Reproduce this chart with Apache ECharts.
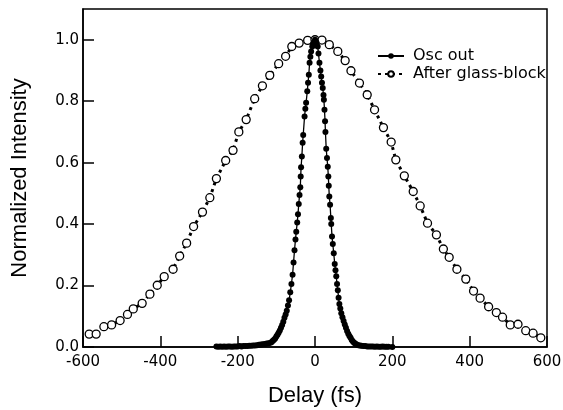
<!DOCTYPE html>
<html>
<head>
<meta charset="utf-8">
<script src="https://cdn.jsdelivr.net/npm/echarts@6/dist/echarts.min.js"></script>
<style>
  html, body { margin: 0; padding: 0; background: #fff; }
  #chart { width: 563px; height: 410px; }
</style>
</head>
<body>
<div id="chart"></div>
<script>
// Osc out (narrow pulse)
var oscDelay = [
  -255, -250, -245, -240, -235, -230, -225, -220, -215, -210, -205, -200,
  -195, -190, -185, -180, -175, -170, -165, -160, -155, -150, -145, -140,
  -135, -130, -125, -120, -115, -112, -109, -106, -103, -100, -97, -94,
  -91, -88, -85, -82, -79, -76, -73, -70, -67, -64, -61, -58, -55.5, -53,
  -50.5, -48.5, -46, -44, -42, -40, -38, -37, -36, -34, -32, -30.5, -27,
  -25, -23, -20, -18, -16, -14, -12, -10, -7, -5, -3, 0, 2, 4, 7, 9, 11.5,
  14, 16, 18, 20, 22, 23, 24.5, 26, 27, 29, 31, 33, 34.5, 35.6, 37, 39, 41,
  42, 44, 46, 48.5, 51, 53, 55, 57, 59, 61, 63, 65.5, 68, 71, 74, 77, 80,
  83, 86, 89, 92, 95, 98, 101, 104, 108, 112, 116, 120, 125, 130, 135, 140,
  145, 150, 155, 160, 165, 170, 175, 180, 185, 190, 200
];
var oscIntensity = [
  0.002, 0.001, 0.002, 0.001, 0.002, 0.001, 0.002, 0.002, 0.001, 0.002, 0.002, 0.002,
  0.003, 0.002, 0.003, 0.003, 0.003, 0.004, 0.004, 0.005, 0.005, 0.006, 0.007, 0.008,
  0.009, 0.010, 0.011, 0.012, 0.014, 0.016, 0.020, 0.024, 0.028, 0.034, 0.040, 0.046,
  0.054, 0.063, 0.072, 0.082, 0.095, 0.106, 0.118, 0.135, 0.152, 0.178, 0.205, 0.235, 0.275, 0.315,
  0.350, 0.375, 0.405, 0.432, 0.465, 0.495, 0.520, 0.555, 0.585, 0.620, 0.665, 0.690, 0.750,
  0.775, 0.795, 0.832, 0.860, 0.886, 0.925, 0.945, 0.962, 0.978, 0.985, 0.992, 1.000, 0.995, 0.990, 0.978, 0.955, 0.925,
  0.900, 0.880, 0.860, 0.843, 0.820, 0.805, 0.772, 0.735, 0.700, 0.645, 0.615, 0.587, 0.555, 0.525, 0.490, 0.463, 0.420,
  0.400, 0.360, 0.335, 0.305, 0.270, 0.250, 0.230, 0.205, 0.185, 0.160, 0.140, 0.125, 0.110, 0.097, 0.085, 0.073, 0.063,
  0.052, 0.043, 0.036, 0.030, 0.023, 0.018, 0.014, 0.011, 0.008, 0.006, 0.005, 0.004, 0.003, 0.003, 0.002, 0.002,
  0.002, 0.002, 0.001, 0.002, 0.001, 0.001, 0.002, 0.001, 0.001, 0.001, 0.000
];

// After glass-block (broadened pulse)
var glassDelay = [
  -584, -566, -546, -526, -504, -485, -470, -447, -427, -408, -390, -367,
  -350, -332, -314, -291, -272, -255, -231, -212, -197, -178, -156, -136,
  -117, -94, -76, -60, -41, -19, 0, 18, 37, 59, 78, 93, 115, 135, 154, 177,
  197, 209, 231, 254, 272, 291, 314, 332, 347, 367, 390, 410, 427, 449, 469,
  485, 505, 525, 545, 564, 584
];
var glassIntensity = [
  0.042, 0.042, 0.066, 0.072, 0.086, 0.106, 0.124, 0.142, 0.172, 0.201, 0.229, 0.253,
  0.296, 0.338, 0.392, 0.439, 0.486, 0.548, 0.607, 0.640, 0.700, 0.740, 0.808, 0.850,
  0.884, 0.922, 0.946, 0.978, 0.989, 0.998, 1.000, 0.999, 0.984, 0.962, 0.932, 0.899, 0.859, 0.821, 0.772, 0.714,
  0.667, 0.609, 0.557, 0.506, 0.459, 0.403, 0.365, 0.319, 0.292, 0.253, 0.221, 0.182, 0.159, 0.131, 0.112,
  0.097, 0.072, 0.074, 0.053, 0.045, 0.030
];

var xTicks = { min: -600, max: 600, step: 200 };
var yTicks = { min: 0, max: 1.1, step: 0.2 };

function pairs(xs, ys) {
  return xs.map(function (x, i) { return [x, ys[i]]; });
}

var myChart = echarts.init(document.getElementById('chart'), null, { renderer: 'canvas' });
var tickFont = 'DejaVu Sans, Verdana, sans-serif';
var titleFont = 'Liberation Sans, Arial, sans-serif';

var option = {
  animation: false,
  backgroundColor: '#fff',
  grid: {
    left: 83, right: 16, top: 9, bottom: 63,
    show: true, borderColor: '#000', borderWidth: 1.5,
    containLabel: false,
    outerBoundsMode: 'none'
  },
  legend: {
    orient: 'vertical',
    left: 377,
    top: 48,
    padding: 0,
    itemWidth: 26,
    itemHeight: 7,
    itemGap: 2,
    textStyle: { fontFamily: tickFont, fontSize: 16, lineHeight: 16, color: '#000', padding: [0, 0, 0, 4] },
    data: ['Osc out', 'After glass-block']
  },
  xAxis: {
    type: 'value',
    min: xTicks.min, max: xTicks.max, interval: xTicks.step,
    name: 'Delay (fs)',
    nameLocation: 'middle',
    nameGap: 38,
    nameTextStyle: { fontFamily: titleFont, fontSize: 22, color: '#000' },
    axisLine: { onZero: false, lineStyle: { color: '#000', width: 1.5 } },
    axisTick: { inside: true, length: 11, lineStyle: { color: '#000', width: 1.5 } },
    axisLabel: { fontFamily: tickFont, fontSize: 15, color: '#000', margin: 8 },
    splitLine: { show: false }
  },
  yAxis: {
    type: 'value',
    min: yTicks.min, max: yTicks.max, interval: yTicks.step,
    name: 'Normalized Intensity',
    nameLocation: 'middle',
    nameGap: 52,
    nameTextStyle: { fontFamily: titleFont, fontSize: 22, color: '#000' },
    axisLine: { show: true, onZero: false, lineStyle: { color: '#000', width: 1.5 } },
    axisTick: { show: true, inside: true, length: 11, lineStyle: { color: '#000', width: 1.5 } },
    axisLabel: {
      fontFamily: tickFont, fontSize: 15, color: '#000', margin: 4,
      showMaxLabel: false,
      formatter: function (v) { return v.toFixed(1); }
    },
    splitLine: { show: false }
  },
  series: [
    {
      name: 'After glass-block',
      type: 'line',
      data: pairs(glassDelay, glassIntensity),
      symbol: 'circle',
      symbolSize: 8,
      showAllSymbol: true,
      itemStyle: { color: '#fff', borderColor: '#000', borderWidth: 1.3 },
      lineStyle: { color: '#000', width: 3, type: [3, 4] },
      emphasis: { disabled: true }
    },
    {
      name: 'Osc out',
      type: 'line',
      data: pairs(oscDelay, oscIntensity),
      symbol: 'circle',
      symbolSize: 6,
      showAllSymbol: true,
      itemStyle: { color: '#000' },
      lineStyle: { color: '#000', width: 1.3 },
      emphasis: { disabled: true }
    }
  ]
};

myChart.setOption(option);
window.addEventListener("resize", () => {
  myChart.resize();
});
</script>
</body>
</html>
